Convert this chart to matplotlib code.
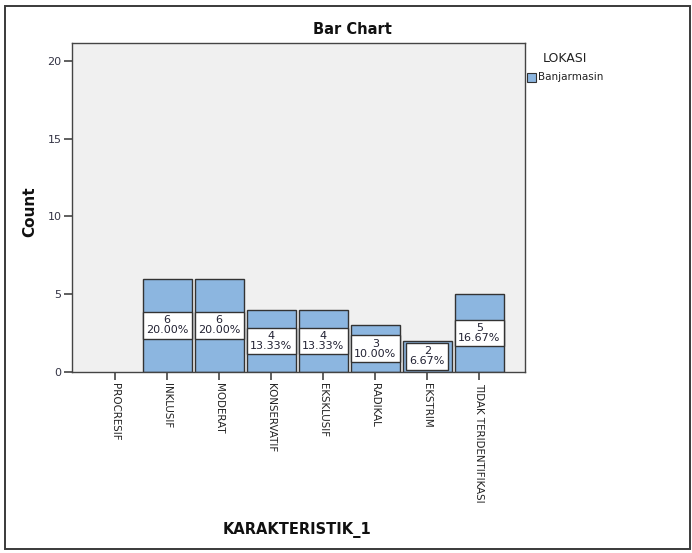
import matplotlib
matplotlib.use("Agg")
import matplotlib.pyplot as plt
from matplotlib.patches import Rectangle

categories = ["PROCRESIF", "INKLUSIF", "MODERAT", "KONSERVATIF", "EKSKLUSIF",
              "RADIKAL", "EKSTRIM", "TIDAK TERIDENTIFIKASI"]
counts = [0, 6, 6, 4, 4, 3, 2, 5]
percents = [0.00, 20.00, 20.00, 13.33, 13.33, 10.00, 6.67, 16.67]
y_ticks = [0, 5, 10, 15, 20]
legend_title = "LOKASI"
series_name = "Banjarmasin"

W, H = 692, 553
fig = plt.figure(figsize=(W / 100, H / 100), dpi=100)
plt.rcParams['font.family'] = ['DejaVu Sans']

def fx(x):
    return x / W

def fy(y):
    return 1 - y / H

# outer frame
fig.patches.append(Rectangle((fx(5), fy(549)), fx(685), (549 - 6) / H,
                             transform=fig.transFigure, fill=False,
                             edgecolor="#3a3a3a", linewidth=1.4))

ax = fig.add_axes([fx(72), fy(372), fx(525 - 72), (372 - 43) / H])
ax.set_facecolor("#f0f0f0")
for s in ax.spines.values():
    s.set_color("#444444")
    s.set_linewidth(1.0)

xs = list(range(len(categories)))
bar_color = "#8cb6e0"
nz = [i for i, c in enumerate(counts) if c > 0]
ax.bar([xs[i] for i in nz], [counts[i] for i in nz], width=0.94,
       color=bar_color, edgecolor="#333333", linewidth=1.0, zorder=2)

for x, c, p in zip(xs, counts, percents):
    if c > 0:
        ax.text(x, c / 2, f"{c}\n{p:.2f}%", ha="center", va="center",
                fontsize=8, color="#222233", linespacing=1.0, zorder=3,
                bbox=dict(boxstyle="square,pad=0.3", facecolor="white",
                          edgecolor="#333333", linewidth=1.0))

ax.set_xlim(-0.83, 7.88)
ax.set_ylim(0, 21.15)
ax.set_yticks(y_ticks)
ax.set_yticklabels([str(v) for v in y_ticks], fontsize=8, color="#333344")
ax.set_xticks(xs)
ax.set_xticklabels(categories, rotation=270, fontsize=7.4, color="#222222")
ax.tick_params(axis="y", length=6, width=1.2, color="#444444", pad=1.5)
ax.tick_params(axis="x", length=6, width=1.2, color="#444444", pad=2)

fig.text(fx(30), fy(212), "Count", rotation=90, ha="center", va="center",
         fontsize=11, fontweight="bold", color="#111111")
fig.text(fx(297), fy(530), "KARAKTERISTIK_1", ha="center", va="center",
         fontsize=10.5, fontweight="bold", color="#111111")
fig.text(fx(352), fy(30), "Bar Chart", ha="center", va="center",
         fontsize=10.5, fontweight="bold", color="#111111")

# legend
fig.text(fx(543), fy(58), legend_title, ha="left", va="center",
         fontsize=9, color="#222222")
fig.patches.append(Rectangle((fx(527), fy(82)), fx(9), 9 / H,
                             transform=fig.transFigure, facecolor=bar_color,
                             edgecolor="#333333", linewidth=0.8))
fig.text(fx(538), fy(77), series_name, ha="left", va="center",
         fontsize=7.5, color="#222222")

fig.savefig("out.png", dpi=100, facecolor="white")
